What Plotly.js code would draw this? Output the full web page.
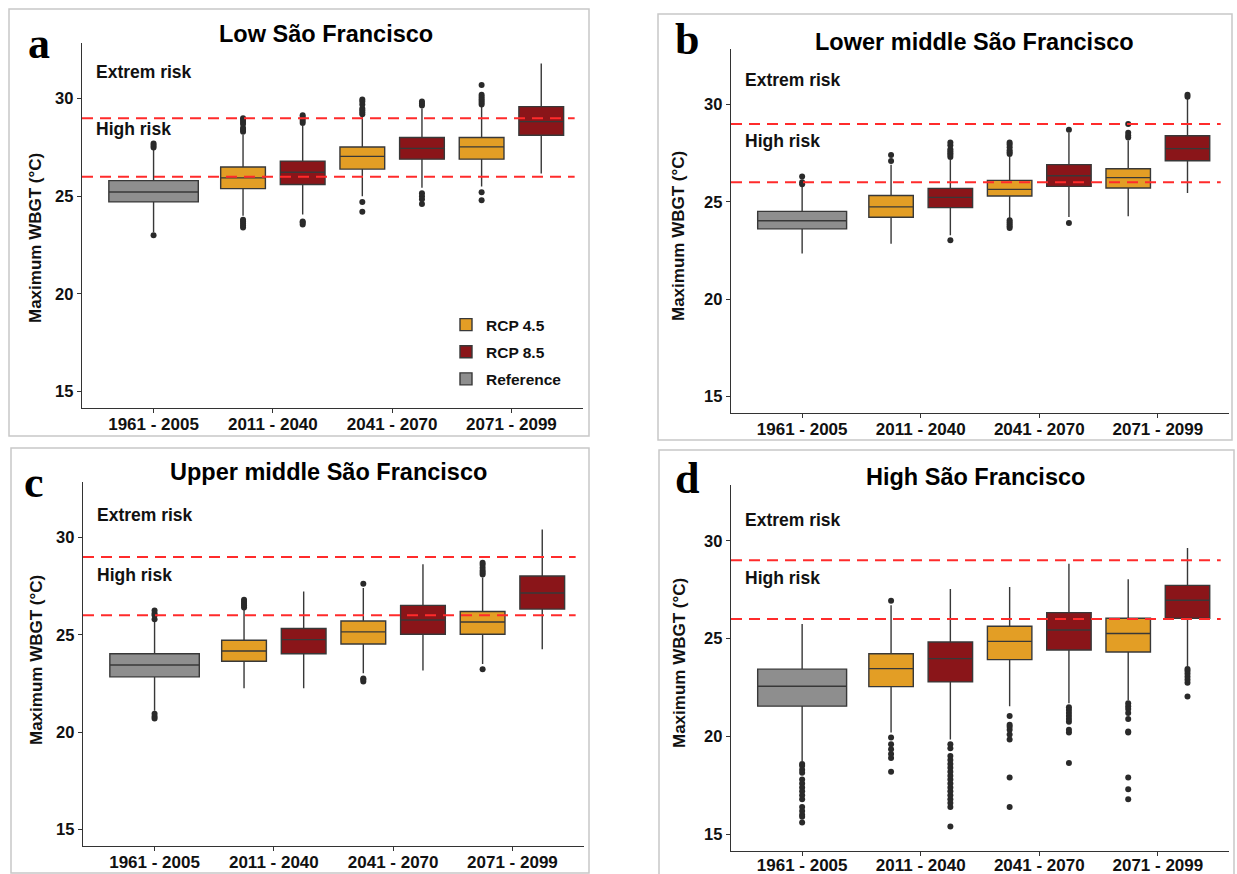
<!DOCTYPE html>
<html>
<head>
<meta charset="utf-8">
<script src="https://cdn.plot.ly/plotly-3.0.1.min.js"></script>
<style>
  html, body { margin: 0; padding: 0; background: #ffffff; }
  #chart { width: 1237px; height: 874px; }
</style>
</head>
<body>
<div id="chart"></div>
<script>
// ---------------- DATA ----------------
const categories = ['1961 - 2005', '2011 - 2040', '2041 - 2070', '2071 - 2099'];
const panelTitles = ['Low São Francisco', 'Lower middle São Francisco', 'Upper middle São Francisco', 'High São Francisco'];
const panelLetters = ['a', 'b', 'c', 'd'];
const seriesNames = ['RCP 4.5', 'RCP 8.5', 'Reference'];
const riskThresholds = [26, 29];          // °C  high risk / extreme risk limits
const riskLabels = ['High risk', 'Extrem risk'];
const yTicks = [15, 20, 25, 30];

// Box statistics: [lower whisker, Q1, median, Q3, upper whisker]
// Reference: 1961 - 2005 ; RCP lists: 2011 - 2040, 2041 - 2070, 2071 - 2099

// (a) Low São Francisco
const lowRef = [23.15, 24.71, 25.22, 25.80, 27.40];
const lowRef_out = [23.0, 27.5, 27.6, 27.7];
const lowRcp45 = [[24.00, 25.39, 25.94, 26.50, 28.15], [25.00, 26.39, 27.04, 27.52, 29.10], [25.50, 26.90, 27.53, 28.01, 29.60]];
const lowRcp45_out = [[23.4, 23.5, 23.6, 23.7, 23.8, 28.3, 28.4, 28.5, 28.7, 28.8, 28.9, 29.0],
                      [24.2, 24.7, 29.2, 29.3, 29.4, 29.5, 29.7, 29.85, 29.95],
                      [24.8, 25.2, 29.7, 29.8, 29.9, 30.0, 30.1, 30.2, 30.7]];
const lowRcp85 = [[24.06, 25.60, 26.23, 26.80, 28.60], [25.43, 26.90, 27.45, 28.01, 29.50], [26.16, 28.12, 28.82, 29.59, 31.80]];
const lowRcp85_out = [[23.55, 23.65, 23.7, 28.75, 28.85, 28.95, 29.05, 29.15],
                      [24.6, 24.85, 25.0, 25.15, 29.65, 29.75, 29.85],
                      []];

// (b) Lower middle São Francisco
const lowerMidRef = [22.34, 23.61, 24.03, 24.51, 25.80];
const lowerMidRef_out = [25.9, 26.0, 26.3];
const lowerMidRcp45 = [[22.85, 24.21, 24.74, 25.32, 26.90], [24.14, 25.30, 25.64, 26.10, 27.30], [24.26, 25.71, 26.24, 26.70, 28.15]];
const lowerMidRcp45_out = [[27.1, 27.4],
                           [23.65, 23.75, 23.85, 23.95, 24.05, 27.45, 27.55, 27.65, 27.8, 27.95, 28.05],
                           [28.3, 28.4, 28.55, 29.0]];
const lowerMidRcp85 = [[23.28, 24.70, 25.23, 25.69, 27.15], [24.22, 25.79, 26.34, 26.91, 28.55], [25.45, 27.11, 27.73, 28.39, 30.30]];
const lowerMidRcp85_out = [[23.03, 27.3, 27.4, 27.5, 27.6, 27.7, 27.9, 28.05],
                           [23.91, 28.7],
                           [30.4, 30.5]];

// (c) Upper middle São Francisco
const upperMidRef = [21.10, 22.84, 23.45, 24.03, 25.70];
const upperMidRef_out = [20.7, 20.8, 20.95, 25.8, 26.0, 26.1, 26.25];
const upperMidRcp45 = [[22.26, 23.64, 24.17, 24.72, 26.30], [23.03, 24.53, 25.15, 25.71, 27.40], [23.50, 25.03, 25.66, 26.20, 27.95]];
const upperMidRcp45_out = [[26.4, 26.5, 26.6, 26.7, 26.8],
                           [22.6, 22.7, 22.75, 27.62],
                           [23.23, 28.1, 28.2, 28.3, 28.45, 28.6, 28.7]];
const upperMidRcp85 = [[22.26, 24.03, 24.75, 25.32, 27.23], [23.16, 25.03, 25.76, 26.51, 28.63], [24.26, 26.32, 27.15, 28.02, 30.41]];
const upperMidRcp85_out = [[], [], []];

// (d) High São Francisco
const highRef = [18.75, 21.55, 22.57, 23.44, 25.75];
const highRef_out = [18.6, 18.5, 18.3, 18.15, 17.8, 17.6, 17.4, 17.2, 17.0, 16.8, 16.4, 16.2, 16.0, 15.9, 15.6];
const highRcp45 = [[20.20, 22.55, 23.47, 24.23, 26.70], [21.55, 23.93, 24.86, 25.63, 27.64], [21.85, 24.32, 25.26, 26.04, 28.04]];
const highRcp45_out = [[18.2, 18.9, 19.1, 19.35, 19.6, 19.95, 26.94],
                       [16.4, 17.9, 19.85, 20.1, 20.35, 20.5, 20.6, 21.05],
                       [16.8, 17.3, 17.9, 20.2, 20.25, 20.9, 21.2, 21.4, 21.55, 21.7]];
const highRcp85 = [[19.85, 22.79, 23.98, 24.83, 27.53], [21.70, 24.42, 25.44, 26.33, 28.83], [23.59, 26.04, 26.96, 27.72, 29.63]];
const highRcp85_out = [[15.4, 16.4, 16.6, 16.8, 17.0, 17.2, 17.4, 17.6, 17.8, 18.0, 18.2, 18.4, 18.6, 18.8, 19.0, 19.4, 19.6],
                       [18.65, 20.2, 20.35, 20.75, 20.9, 21.05, 21.2, 21.35, 21.5],
                       [22.05, 22.75, 22.9, 23.05, 23.2, 23.35, 23.45]];

const panels = [
  {ref: lowRef, refOut: lowRef_out, r45: lowRcp45, r45Out: lowRcp45_out, r85: lowRcp85, r85Out: lowRcp85_out},
  {ref: lowerMidRef, refOut: lowerMidRef_out, r45: lowerMidRcp45, r45Out: lowerMidRcp45_out, r85: lowerMidRcp85, r85Out: lowerMidRcp85_out},
  {ref: upperMidRef, refOut: upperMidRef_out, r45: upperMidRcp45, r45Out: upperMidRcp45_out, r85: upperMidRcp85, r85Out: upperMidRcp85_out},
  {ref: highRef, refOut: highRef_out, r45: highRcp45, r45Out: highRcp45_out, r85: highRcp85, r85Out: highRcp85_out}
];

// ---------------- STYLE / LAYOUT ----------------
const W = 1237, H = 874;
const px = v => v / W;
const py = v => 1 - v / H;

const colors = {r45: '#E39E25', r85: '#8A1519', ref: '#8E8E8E'};
const boxLine = {color: '#383838', width: 1.4};
const sansBold = {family: 'Liberation Sans, Arial, sans-serif', weight: 'bold', color: '#111111'};

// plot areas in pixels [left, right, top, bottom]
const areas = [[82, 583, 43, 408], [731, 1229, 49, 413], [83, 584, 482, 846], [731, 1229, 485, 851]];
const frames = [[9, 589, 9, 436], [658, 1232, 14, 440], [11, 589, 448, 873], [659, 1234, 450, 890]];
const titlePos = [[326, 34], [974, 42], [328, 472], [975, 477]];
const letterPos = [[39, 44], [687, 40], [34, 482], [687, 478]];
const yTitlePos = [[35, 238], [678, 236], [36, 660], [679, 663]];
const riskTextY = [[28.42, 31.35], [28.12, 31.28], [28.08, 31.15], [28.12, 31.08]];
const xLabelStandoff = [-4, -4, -4, -6];

const dodge = 0.25, refWidth = 0.75, rcpWidth = 0.375;
const catIdx = categories.map((c, i) => i);

const traces = [];
const shapes = [];
const annotations = [];
const layout = {
  width: W, height: H,
  margin: {l: 0, r: 0, t: 0, b: 0},
  paper_bgcolor: '#ffffff', plot_bgcolor: '#ffffff',
  showlegend: true,
  boxmode: 'overlay',
  legend: {
    x: px(446), y: py(308), xanchor: 'left', yanchor: 'top',
    bgcolor: 'rgba(0,0,0,0)', font: Object.assign({}, sansBold, {size: 15.5}),
    traceorder: 'grouped', tracegroupgap: 4, itemwidth: 30
  },
  shapes: shapes, annotations: annotations
};

function stat(arr, k) { return arr.map(s => s[k]); }

panels.forEach((p, i) => {
  const n = i + 1;
  const xa = 'x' + (n === 1 ? '' : n), ya = 'y' + (n === 1 ? '' : n);
  const [l, r, t, b] = areas[i];
  layout['xaxis' + (n === 1 ? '' : n)] = {
    domain: [px(l), px(r)], range: [-0.6, 3.6], anchor: ya,
    tickvals: catIdx, ticktext: categories,
    showline: true, linecolor: '#333333', linewidth: 1.3,
    ticks: 'outside', ticklen: 4, tickcolor: '#333333', tickwidth: 1.2,
    ticklabelstandoff: xLabelStandoff[i],
    showgrid: false, zeroline: false, fixedrange: true,
    tickfont: Object.assign({}, sansBold, {size: 17})
  };
  layout['yaxis' + (n === 1 ? '' : n)] = {
    domain: [py(b), py(t)], range: [14.15, 32.85], anchor: xa,
    tickvals: yTicks,
    showline: true, linecolor: '#333333', linewidth: 1.3,
    ticks: 'outside', ticklen: 4, tickcolor: '#333333', tickwidth: 1.2,
    showgrid: false, zeroline: false, fixedrange: true,
    tickfont: Object.assign({}, sansBold, {size: 16.5})
  };

  const mk = (xs, stats, color, width, name, show, rank) => ({
    type: 'box', x: xs, xaxis: xa, yaxis: ya,
    lowerfence: stat(stats, 0), q1: stat(stats, 1), median: stat(stats, 2), q3: stat(stats, 3), upperfence: stat(stats, 4),
    width: width, whiskerwidth: 0, boxpoints: false,
    fillcolor: color, line: boxLine,
    name: name, legendgroup: name, showlegend: show, legendrank: rank, hoverinfo: 'skip'
  });
  const rcpX45 = catIdx.slice(1).map(c => c - dodge);
  const rcpX85 = catIdx.slice(1).map(c => c + dodge);
  traces.push(mk([catIdx[0]], [p.ref], colors.ref, refWidth, seriesNames[2], i === 0, 3));
  traces.push(mk(rcpX45, p.r45, colors.r45, rcpWidth, seriesNames[0], i === 0, 1));
  traces.push(mk(rcpX85, p.r85, colors.r85, rcpWidth, seriesNames[1], i === 0, 2));

  // outliers
  const ox = [], oy = [];
  p.refOut.forEach(v => { ox.push(catIdx[0]); oy.push(v); });
  p.r45Out.forEach((arr, k) => arr.forEach(v => { ox.push(rcpX45[k]); oy.push(v); }));
  p.r85Out.forEach((arr, k) => arr.forEach(v => { ox.push(rcpX85[k]); oy.push(v); }));
  traces.push({type: 'scatter', mode: 'markers', x: ox, y: oy, xaxis: xa, yaxis: ya,
    marker: {color: '#2a2a2a', size: 6}, showlegend: false, hoverinfo: 'skip'});

  // risk threshold lines
  riskThresholds.forEach(th => shapes.push({
    type: 'line', xref: xa, yref: ya, x0: -0.6, x1: 3.53, y0: th, y1: th, layer: 'above',
    line: {color: '#FF2B2B', width: 2, dash: '11px,7px'}
  }));
  // risk labels
  riskLabels.forEach((txt, k) => annotations.push({
    xref: xa, yref: ya, x: -0.5, y: riskTextY[i][k], text: txt, showarrow: false,
    xanchor: 'left', yanchor: 'middle', font: Object.assign({}, sansBold, {size: 17.5})
  }));
  // panel frame
  const [fl, fr, ft, fb] = frames[i];
  shapes.push({type: 'rect', xref: 'paper', yref: 'paper', x0: px(fl), x1: px(fr), y0: py(fb), y1: py(ft),
    line: {color: '#C8C8C8', width: 1.5}, fillcolor: 'rgba(0,0,0,0)', layer: 'below'});
  // titles
  annotations.push({xref: 'paper', yref: 'paper', x: px(titlePos[i][0]), y: py(titlePos[i][1]), text: panelTitles[i],
    showarrow: false, xanchor: 'center', yanchor: 'middle', font: Object.assign({}, sansBold, {size: 23.5, color: '#000000'})});
  annotations.push({xref: 'paper', yref: 'paper', x: px(letterPos[i][0]), y: py(letterPos[i][1]), text: panelLetters[i],
    showarrow: false, xanchor: 'center', yanchor: 'middle',
    font: {family: 'Liberation Serif, Times New Roman, serif', weight: 'bold', size: 44, color: '#000000'}});
  annotations.push({xref: 'paper', yref: 'paper', x: px(yTitlePos[i][0]), y: py(yTitlePos[i][1]), text: 'Maximum WBGT (°C)',
    showarrow: false, textangle: -90, xanchor: 'center', yanchor: 'middle', font: Object.assign({}, sansBold, {size: 17})});
});

Plotly.newPlot('chart', traces, layout, {displayModeBar: false, staticPlot: true});
</script>
</body>
</html>
